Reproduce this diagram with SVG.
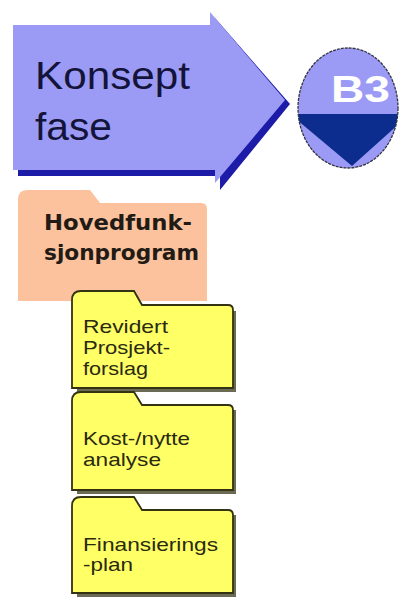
<svg xmlns="http://www.w3.org/2000/svg" width="400" height="599" viewBox="0 0 400 599">
<style>
.big{font-family:"Liberation Sans",Arial,sans-serif;font-size:38px;fill:#14143a}
.bold{font-family:"DejaVu Sans",Verdana,sans-serif;font-weight:bold;font-size:22px;fill:#221a14}
.doc{font-family:"Liberation Sans",Arial,sans-serif;font-size:19px;fill:#2a2a10}
.yf{fill:#ffff66;stroke:#333311;stroke-width:1.8}
.ysh{fill:#6b6b55}
</style>
<defs>
<clipPath id="cc"><ellipse cx="348" cy="108" rx="50" ry="60"/></clipPath>
</defs>
<rect width="400" height="599" fill="#ffffff"/>
<g id="phase-arrow">
<polygon points="18,31 215,31 215,18 290,104 220,190 220,176 18,176" fill="#1c1ca8"/>
<polygon points="13,25 210,25 210,12 285,100 215,183 215,170 13,170" fill="#9b9bf5"/>
<text class="big" x="35" y="89" textLength="155" lengthAdjust="spacingAndGlyphs">Konsept</text>
<text class="big" x="35" y="140" textLength="77" lengthAdjust="spacingAndGlyphs">fase</text>
</g>
<g id="milestone-b3">
<ellipse cx="348" cy="108" rx="50" ry="60" fill="#9b9bf5"/>
<polygon points="290,114 410,114 352,166" fill="#0c2c8e" clip-path="url(#cc)"/>
<ellipse cx="348" cy="108" rx="50" ry="60" fill="none" stroke="#333344" stroke-width="1.3" stroke-dasharray="3,1"/>
<text x="331" y="102" font-family="'Liberation Sans',Arial,sans-serif" font-weight="bold" font-size="36" fill="#ffffff" textLength="59" lengthAdjust="spacingAndGlyphs">B3</text>
</g>
<g id="hovedfunksjonprogram">
<path d="M18,301 L18,199 Q18,190 28,190 L90,190 L100,203 L201,203 Q207,203 207,209 L207,301 Z" fill="#fbc29d"/>
<text class="bold" x="44" y="230" textLength="148" lengthAdjust="spacingAndGlyphs">Hovedfunk-</text>
<text class="bold" x="44" y="260" textLength="155" lengthAdjust="spacingAndGlyphs">sjonprogram</text>
</g>
<g id="revidert-prosjektforslag">
<path class="ysh" d="M77,311 L236,311 L236,392 L77,392 Z"/>
<path class="yf" d="M72,388 L72,300 Q72,291 81,291 L134,291 L142,305 L228,305 Q233,305 233,310 L233,388 Z"/>
<text class="doc" x="83" y="333" textLength="85" lengthAdjust="spacingAndGlyphs">Revidert</text>
<text class="doc" x="83" y="354" textLength="87" lengthAdjust="spacingAndGlyphs">Prosjekt-</text>
<text class="doc" x="83" y="375" textLength="65" lengthAdjust="spacingAndGlyphs">forslag</text>
</g>
<g id="kost-nytte-analyse">
<path class="ysh" d="M77,410 L236,410 L236,494 L77,494 Z"/>
<path class="yf" d="M72,490 L72,401 Q72,392 81,392 L134,392 L142,405 L228,405 Q233,405 233,410 L233,490 Z"/>
<text class="doc" x="83" y="445" textLength="107" lengthAdjust="spacingAndGlyphs">Kost-/nytte</text>
<text class="doc" x="83" y="466" textLength="78" lengthAdjust="spacingAndGlyphs">analyse</text>
</g>
<g id="finansieringsplan">
<path class="ysh" d="M77,515 L236,515 L236,597 L77,597 Z"/>
<path class="yf" d="M72,593 L72,506 Q72,497 81,497 L134,497 L142,510 L228,510 Q233,510 233,515 L233,593 Z"/>
<text class="doc" x="83" y="551" textLength="135" lengthAdjust="spacingAndGlyphs">Finansierings</text>
<text class="doc" x="83" y="571" textLength="50" lengthAdjust="spacingAndGlyphs">-plan</text>
</g>
<g id="connectors"/>
</svg>
